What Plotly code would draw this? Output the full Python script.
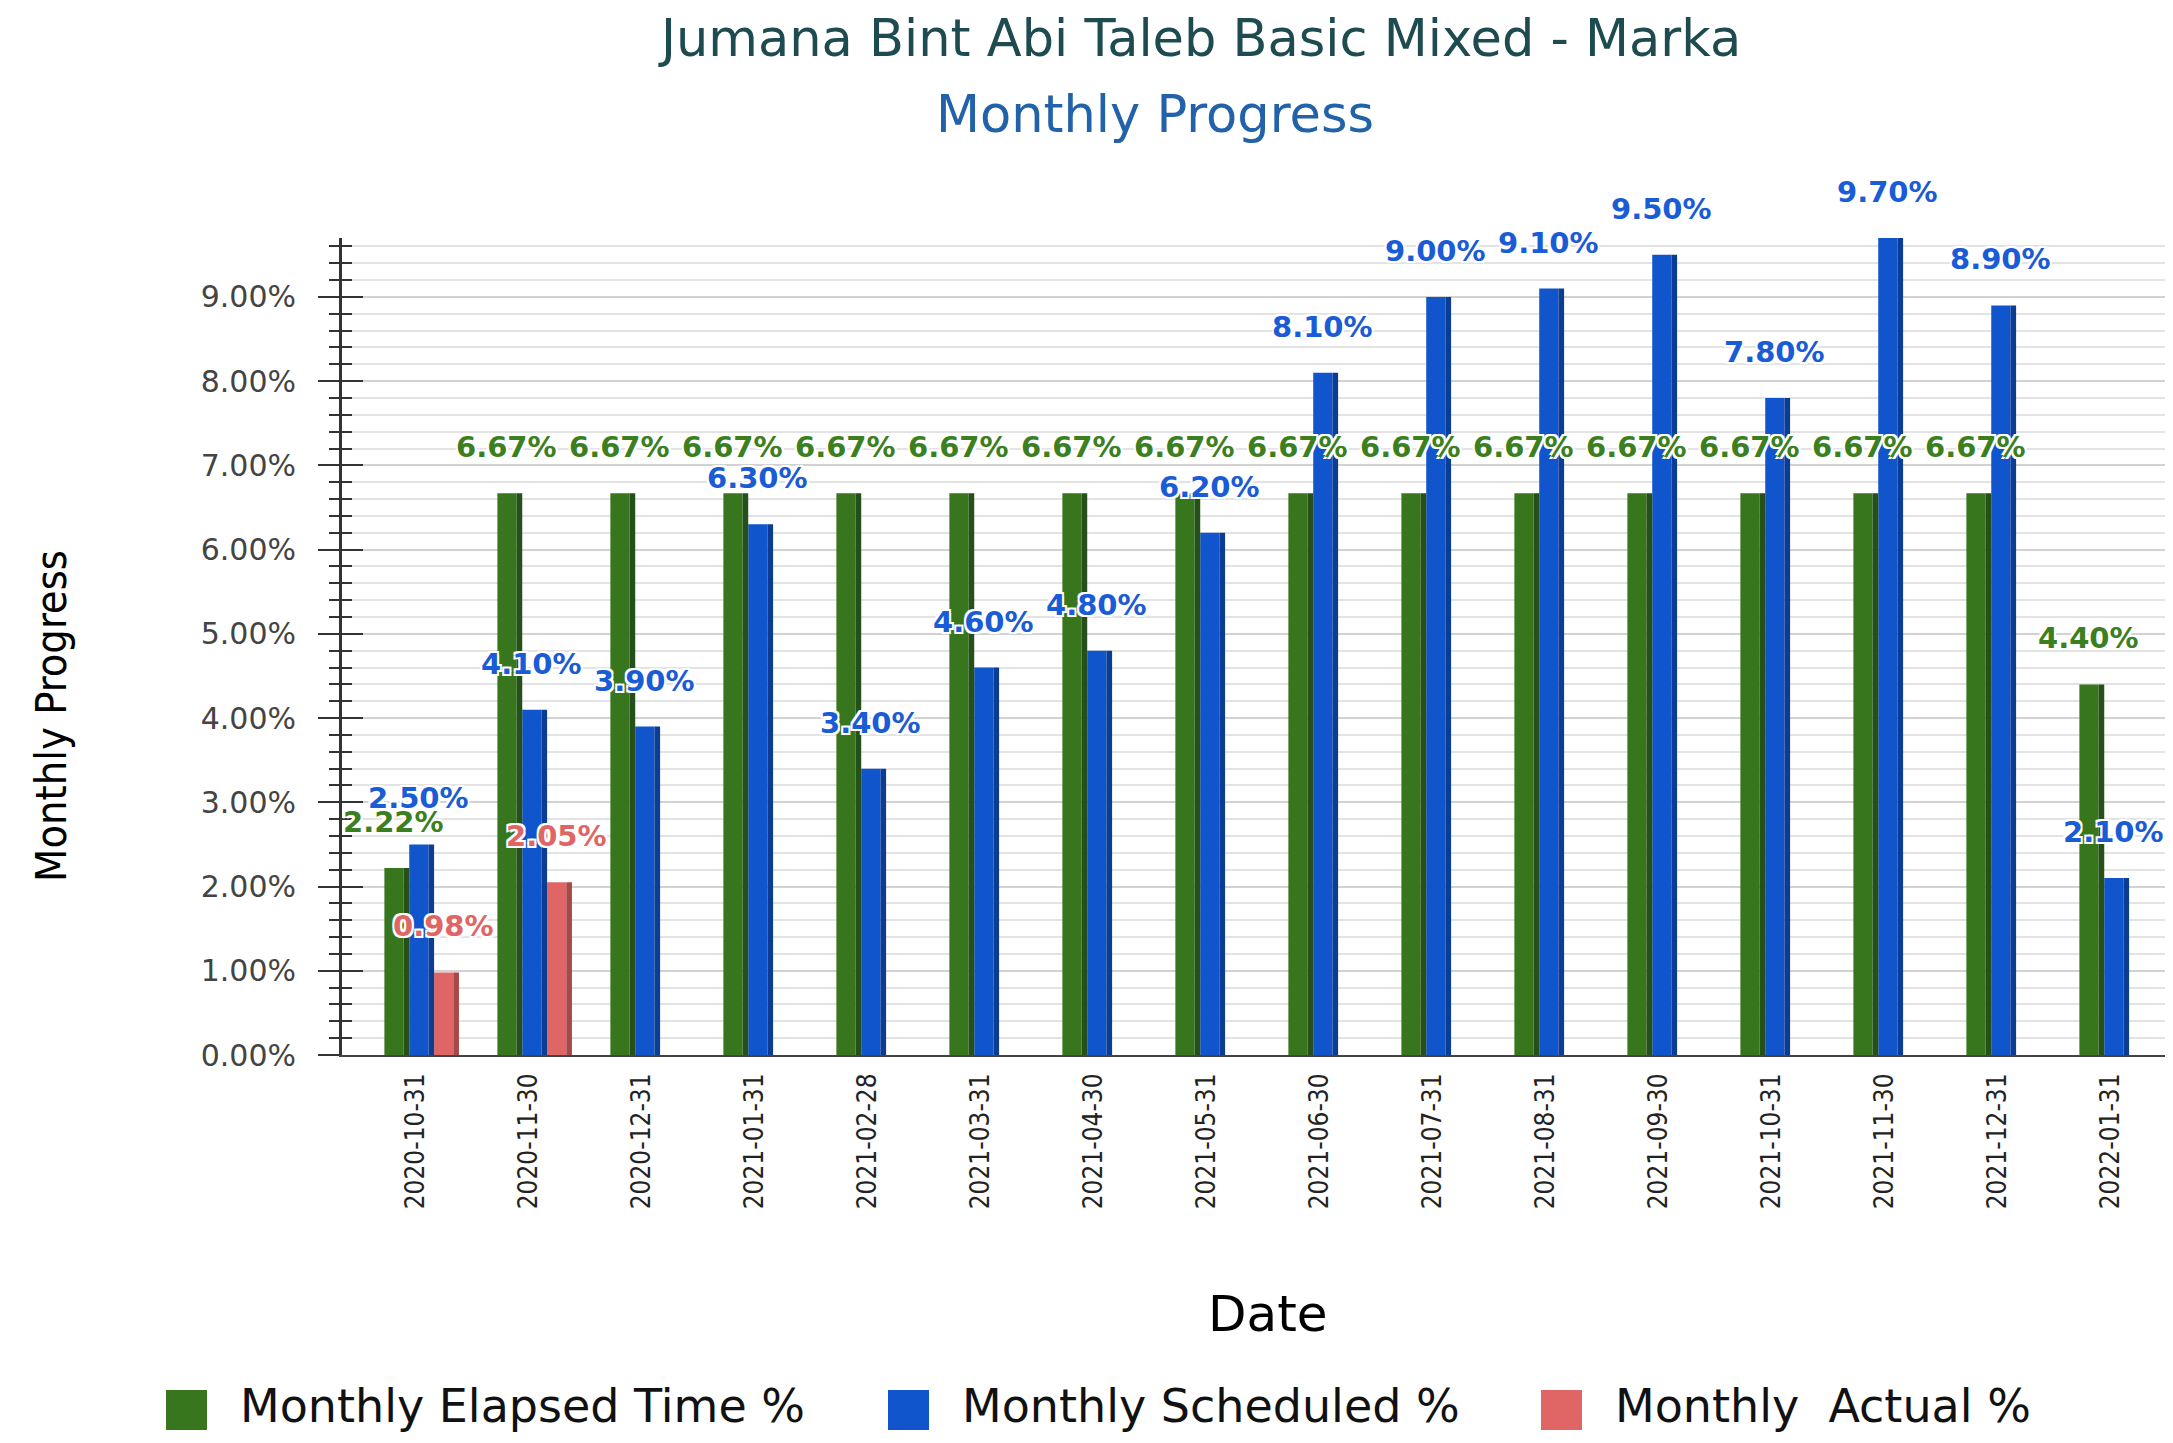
import plotly.graph_objects as go

# ── data ──────────────────────────────────────────────────────────────────────
dates = [
    "2020-10-31", "2020-11-30", "2020-12-31", "2021-01-31",
    "2021-02-28", "2021-03-31", "2021-04-30", "2021-05-31",
    "2021-06-30", "2021-07-31", "2021-08-31", "2021-09-30",
    "2021-10-31", "2021-11-30", "2021-12-31", "2022-01-31",
]
elapsed = [2.22, 6.67, 6.67, 6.67, 6.67, 6.67, 6.67, 6.67,
           6.67, 6.67, 6.67, 6.67, 6.67, 6.67, 6.67, 4.40]
scheduled = [2.50, 4.10, 3.90, 6.30, 3.40, 4.60, 4.80, 6.20,
             8.10, 9.00, 9.10, 9.50, 7.80, 9.70, 8.90, 2.10]
actual = [0.98, 2.05, None, None, None, None, None, None,
          None, None, None, None, None, None, None, None]

series_names = ["Monthly Elapsed Time %", "Monthly Scheduled %", "Monthly\u00a0 Actual %"]

# ── layout constants (page pixels) ───────────────────────────────────────────
W, H = 2173, 1443
OFF = 8                      # default body margin of the html page
L, T, B = 342, 238, 388      # plot area edges in page coords
FW, FH = W - 2 * OFF, H - 2 * OFF
PW, PH = W - OFF - L, H - B - T
UNIT = 113                   # px per category
XR = [-0.655, -0.655 + PW / UNIT]
YR = [0, 9.7]

BAR, FRONT = 0.22, 0.17
SHIFT = 0.05

WIDE = "DejaVu Sans, Arial, sans-serif"
NARROW = "Liberation Sans Narrow, DejaVu Sans Condensed, DejaVu Sans, Arial"
HALO = "2px 2px 0 #fff, -2px -2px 0 #fff, 2px -2px 0 #fff, -2px 2px 0 #fff"


def paper_x(px):
    return (px - L) / PW


def paper_y(py):
    return (H - B - py) / PH


styles = [
    # front, side, label colour
    ("#38761d", "#25501a", "#3b7f20"),
    ("#1155cc", "#0b3d94", "#1a5bd6"),
    ("#e06666", "#a84848", "#e06666"),
]

fig = go.Figure()

for i, (name, vals) in enumerate(zip(series_names, [elapsed, scheduled, actual])):
    front, side, lab = styles[i]
    start = -1.5 * BAR + i * BAR + SHIFT
    fig.add_trace(go.Bar(
        name=name, x=dates, y=vals, width=FRONT, offset=start,
        marker=dict(color=front, line=dict(width=0)),
        showlegend=False, cliponaxis=False,
    ))
    fig.add_trace(go.Bar(
        name=name, x=dates, y=vals, width=BAR - FRONT, offset=start + FRONT,
        marker=dict(color=side, line=dict(width=0)), yaxis="y2",
        showlegend=False, cliponaxis=False, hoverinfo="skip",
    ))
    for d, v in zip(dates, vals):
        if v is None:
            continue
        fig.add_annotation(
            x=d, y=v, xref="x", yref="y", text=f"{v:.2f}%", showarrow=False,
            xshift=(start + BAR / 2) * UNIT - 3, yshift=46, yanchor="middle",
            font=dict(family=WIDE, size=29, color=lab, weight="bold", shadow=HALO),
        )

# titles
fig.add_annotation(
    text="Jumana Bint Abi Taleb Basic Mixed - Marka", xref="paper", yref="paper",
    x=paper_x(1199), y=paper_y(38), showarrow=False, xanchor="center", yanchor="middle",
    font=dict(family=WIDE, size=51, color="#1d4b50"),
)
fig.add_annotation(
    text="Monthly Progress", xref="paper", yref="paper",
    x=paper_x(1155), y=paper_y(114), showarrow=False, xanchor="center", yanchor="middle",
    font=dict(family=WIDE, size=51, color="#2262a8"),
)
fig.add_annotation(
    text="Monthly Progress", xref="paper", yref="paper", textangle=-90,
    x=paper_x(51), y=paper_y(716), showarrow=False, xanchor="center", yanchor="middle",
    font=dict(family=NARROW, size=43, color="#000"),
)
fig.add_annotation(
    text="Date", xref="paper", yref="paper",
    x=paper_x(1268), y=paper_y(1314), showarrow=False, xanchor="center", yanchor="middle",
    font=dict(family=WIDE, size=50, color="#000"),
)

# legend (swatch + label)
legend_x = [166, 888, 1541]
for name, (front, _, _), lx in zip(series_names, styles, legend_x):
    fig.add_shape(
        type="rect", xref="paper", yref="paper",
        x0=paper_x(lx), x1=paper_x(lx + 41), y0=paper_y(1430), y1=paper_y(1390),
        fillcolor=front, line=dict(width=0),
    )
    fig.add_annotation(
        text=name, xref="paper", yref="paper", x=paper_x(lx + 72), y=paper_y(1406),
        showarrow=False, xanchor="left", yanchor="middle",
        font=dict(family=WIDE, size=46, color="#111"),
    )

fig.update_layout(
    width=FW, height=FH,
    margin=dict(l=L - OFF, r=0, t=T - OFF, b=B - OFF, pad=0),
    barmode="overlay",
    showlegend=False,
    plot_bgcolor="white", paper_bgcolor="white",
    xaxis=dict(
        type="category", range=XR, showgrid=False, zeroline=False,
        showline=True, linecolor="#444", linewidth=2,
        ticks="outside", ticklen=6, tickcolor="rgba(0,0,0,0)", tickangle=-90,
        tickfont=dict(family=NARROW, size=26, color="#222"),
    ),
    yaxis=dict(
        range=YR, tick0=0, dtick=1, tickformat=".2f", ticksuffix="%",
        showline=True, linecolor="#333", linewidth=3, zeroline=False,
        ticks="outside", ticklen=21, tickwidth=2, tickcolor="#333",
        gridcolor="#d2d2d2", gridwidth=2, ticklabelstandoff=16,
        tickfont=dict(family=WIDE, size=30, color="#444"),
        minor=dict(dtick=0.2, ticks="outside", ticklen=10, tickwidth=2,
                   tickcolor="#333", showgrid=True, gridcolor="#e3e3e3", gridwidth=2),
    ),
    yaxis2=dict(
        range=YR, overlaying="y", anchor="x", side="left", tick0=0, dtick=1,
        showgrid=False, zeroline=False, showline=False, showticklabels=False,
        ticks="inside", ticklen=21, tickwidth=2, tickcolor="#333",
        minor=dict(dtick=0.2, ticks="inside", ticklen=10, tickwidth=2,
                   tickcolor="#333", showgrid=False),
    ),
)

fig.write_html("out.html")
